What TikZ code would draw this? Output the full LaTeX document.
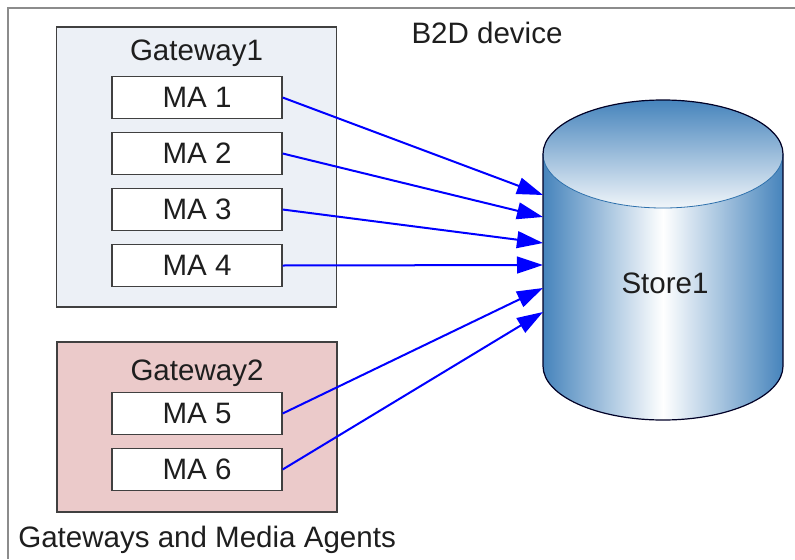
\documentclass[tikz,border=0pt]{standalone}
\usepackage{fontspec}
\setmainfont{Liberation Sans}
\usepackage{xcolor}
\usetikzlibrary{arrows.meta}

\definecolor{gwblue}{RGB}{236,240,246}
\definecolor{gwred}{RGB}{235,202,202}
\definecolor{boxgray}{RGB}{64,64,64}
\definecolor{framegray}{RGB}{140,140,140}
\definecolor{cylblue}{RGB}{70,132,188}
\definecolor{cylrim}{RGB}{45,112,172}
\definecolor{txtgray}{RGB}{30,30,30}

\begin{document}
\begin{tikzpicture}[x=0.025cm, y=-0.025cm,
    lbl/.style={text=txtgray, font=\fontsize{21}{25}\selectfont, inner sep=0pt},
    gateway/.style={draw=boxgray, line width=0.3mm, minimum width=7cm, inner sep=0pt},
    agent/.style={draw=boxgray, line width=0.3mm, fill=white, text=txtgray,
      font=\fontsize{21}{25}\selectfont, minimum width=4.25cm, minimum height=1.05cm, inner sep=0pt},
    feed/.style={draw=blue, line width=0.5mm, -{Triangle[length=6.5mm, width=4.2mm]}}]
  \useasboundingbox (0,0) rectangle (795,559);

  % Frame
  \draw[framegray, line width=0.6mm] (8,559) -- (8,8) -- (795,8);

  % Title
  \node[lbl, anchor=base] (title) at (487,43) {B2D device};

  % Gateway 1
  \node[gateway, fill=gwblue, minimum height=7cm] (gw1) at (196.5,167) {};
  \node[lbl, anchor=base] (gw1label) at (196.5,60) {Gateway1};
  \node[agent] (ma1) at (197,97.5)  {MA 1};
  \node[agent] (ma2) at (197,153.5) {MA 2};
  \node[agent] (ma3) at (197,209.5) {MA 3};
  \node[agent] (ma4) at (197,265.5) {MA 4};

  % Gateway 2
  \node[gateway, fill=gwred, minimum height=4.25cm] (gw2) at (197,427) {};
  \node[lbl, anchor=base] (gw2label) at (197,380) {Gateway2};
  \node[agent] (ma5) at (197,413.5) {MA 5};
  \node[agent] (ma6) at (197,469.5) {MA 6};

  % Caption
  \node[lbl, anchor=base west] (caption) at (18,547) {Gateways and Media Agents};

  % Store (cylinder)
  \shade[left color=cylblue, right color=cylblue, middle color=white]
        (543,154) -- (543,366) arc[start angle=180, end angle=0, x radius=120, y radius=54]
        -- (783,154) arc[start angle=0, end angle=180, x radius=120, y radius=54] -- cycle;
  \shade[top color=cylblue, bottom color=white!92!cylblue]
        (663,154) ellipse[x radius=120, y radius=54];
  \draw[cylrim, line width=0.2mm]
        (543,154) arc[start angle=180, end angle=0, x radius=120, y radius=54]; % rim
  \draw[black!85!blue, line width=0.3mm]
        (543,154) -- (543,366) arc[start angle=180, end angle=0, x radius=120, y radius=54]
        -- (783,154) arc[start angle=0, end angle=-180, x radius=120, y radius=54]; % outline
  \node[lbl, anchor=base] (store) at (665,293) {Store1};

  % Arrow ends on the store
  \coordinate (in1) at (543,195);
  \coordinate (in2) at (543,217);
  \coordinate (in3) at (543,243);
  \coordinate (in4) at (543,265);
  \coordinate (in5) at (543,288);
  \coordinate (in6) at (543,312);

  % Arrows
  \draw[feed] (ma1.east) -- (in1);
  \draw[feed] (ma2.east) -- (in2);
  \draw[feed] (ma3.east) -- (in3);
  \draw[feed] (ma4.east) -- (in4);
  \draw[feed] (ma5.east) -- (in5);
  \draw[feed] (ma6.east) -- (in6);
\end{tikzpicture}
\end{document}
